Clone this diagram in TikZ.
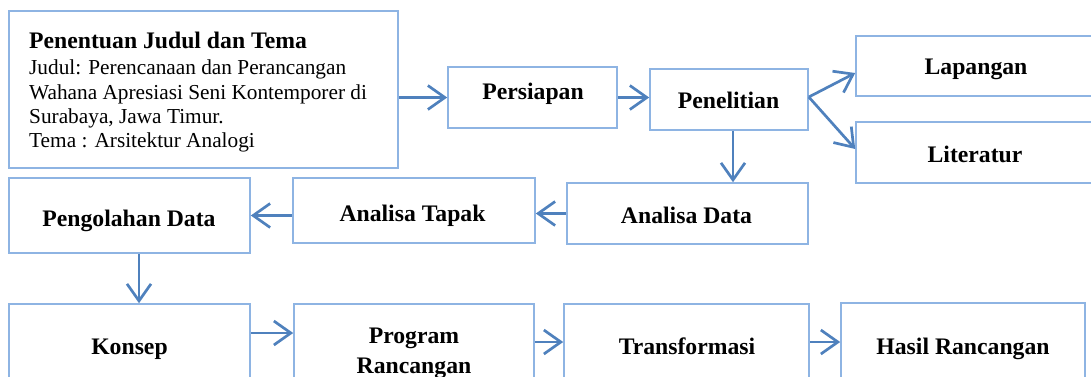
\documentclass[tikz,border=0pt]{standalone}
\usepackage{fontspec}
\setmainfont{Liberation Serif}
\usetikzlibrary{arrows.meta,calc}
\definecolor{boxc}{RGB}{142,180,227}
\definecolor{arrc}{RGB}{79,129,189}
\newcommand\lblfnt{\fontsize{23.7}{27}\selectfont\bfseries}
\newcommand\bodyfnt{\fontsize{21.3}{25}\selectfont}
\begin{document}
\begin{tikzpicture}[x=1pt,y=-1pt,
  box/.style={draw=boxc,line width=1.6pt,inner sep=0pt,rectangle},
  lbl/.style={anchor=base,font=\lblfnt,inner sep=0pt},
  ln/.style={anchor=base west,font=\bodyfnt,inner sep=0pt},
  arr/.style={draw=arrc,line width=2.7pt,-{Straight Barb[length=17pt,width=24pt,line width=2.7pt]}}]
\useasboundingbox (0,0) rectangle (1091,376);
\clip (0,0) rectangle (1091,376);
% boxes
\node[box,minimum width=389pt,minimum height=157pt] (b1) at (203.5,89.5) {};
\node[box,minimum width=169pt,minimum height=61pt] (pers) at (532.5,97.5) {};
\node[box,minimum width=158pt,minimum height=61pt] (pen) at (729,99.5) {};
\node[box,minimum width=244pt,minimum height=60pt] (lap) at (978,66) {};
\node[box,minimum width=244pt,minimum height=61pt] (lit) at (978,152.5) {};
\node[box,minimum width=241pt,minimum height=75pt] (pd) at (129.5,215.5) {};
\node[box,minimum width=242pt,minimum height=65pt] (at) at (414,210.5) {};
\node[box,minimum width=241pt,minimum height=61pt] (ad) at (687.5,213.5) {};
\node[box,minimum width=241pt,minimum height=96pt] (kon) at (129.5,352) {};
\node[box,minimum width=240pt,minimum height=96pt] (prog) at (414,352) {};
\node[box,minimum width=245pt,minimum height=96pt] (trans) at (686.5,352) {};
\node[box,minimum width=244pt,minimum height=97pt] (hasil) at (963,351.5) {};
% texts
\node[ln,font=\lblfnt] (t1) at (29,48) {Penentuan Judul dan Tema};
\node[ln] (t2) at (29,74) {Judul: Perencanaan dan Perancangan};
\node[ln] (t3) at (29,99) {Wahana Apresiasi Seni Kontemporer di};
\node[ln] (t4) at (29,123) {Surabaya, Jawa Timur.};
\node[ln] (t5) at (29,147) {Tema : Arsitektur Analogi};
\node[lbl] (tpers) at (533,99) {Persiapan};
\node[lbl] (tpen) at (728.5,108) {Penelitian};
\node[lbl] (tlap) at (976,74) {Lapangan};
\node[lbl] (tlit) at (975,162) {Literatur};
\node[lbl] (tpd) at (129,226) {Pengolahan Data};
\node[lbl] (tat) at (412.5,221) {Analisa Tapak};
\node[lbl] (tad) at (686.5,223) {Analisa Data};
\node[lbl] (tkon) at (129.5,354) {Konsep};
\node[lbl] (tprog1) at (414,343) {Program};
\node[lbl] (tprog2) at (414,373) {Rancangan};
\node[lbl] (ttrans) at (687,354) {Transformasi};
\node[lbl] (thasil) at (963,354) {Hasil Rancangan};
% arrows
\draw[arr] (b1.east |- pers.west) -- (pers.west);
\draw[arr] (pers.east) -- (pers.east -| pen.west);
\draw[arr] ([yshift=2.5pt]pen.east) -- ([yshift=-7pt]lap.west);
\draw[arr] ([yshift=2.5pt]pen.east) -- ([yshift=3.5pt]lit.west);
\draw[arr] ([xshift=4pt]pen.south) -- ([xshift=4pt]pen.south |- ad.north);
\draw[arr] (ad.west) -- (ad.west -| at.east);
\draw[arr] (pd.east -| at.west) -- (pd.east);
\draw[arr] ([xshift=9.5pt]pd.south) -- ([xshift=9.5pt]pd.south |- kon.north);
\draw[arr] ([yshift=19pt]kon.east) -- ([yshift=19pt]kon.east -| prog.west);
\draw[arr] ([yshift=10pt]prog.east) -- ([yshift=10pt]prog.east -| trans.west);
\draw[arr] ([yshift=10pt]trans.east) -- ([yshift=10pt]trans.east -| hasil.west);
\end{tikzpicture}
\end{document}
